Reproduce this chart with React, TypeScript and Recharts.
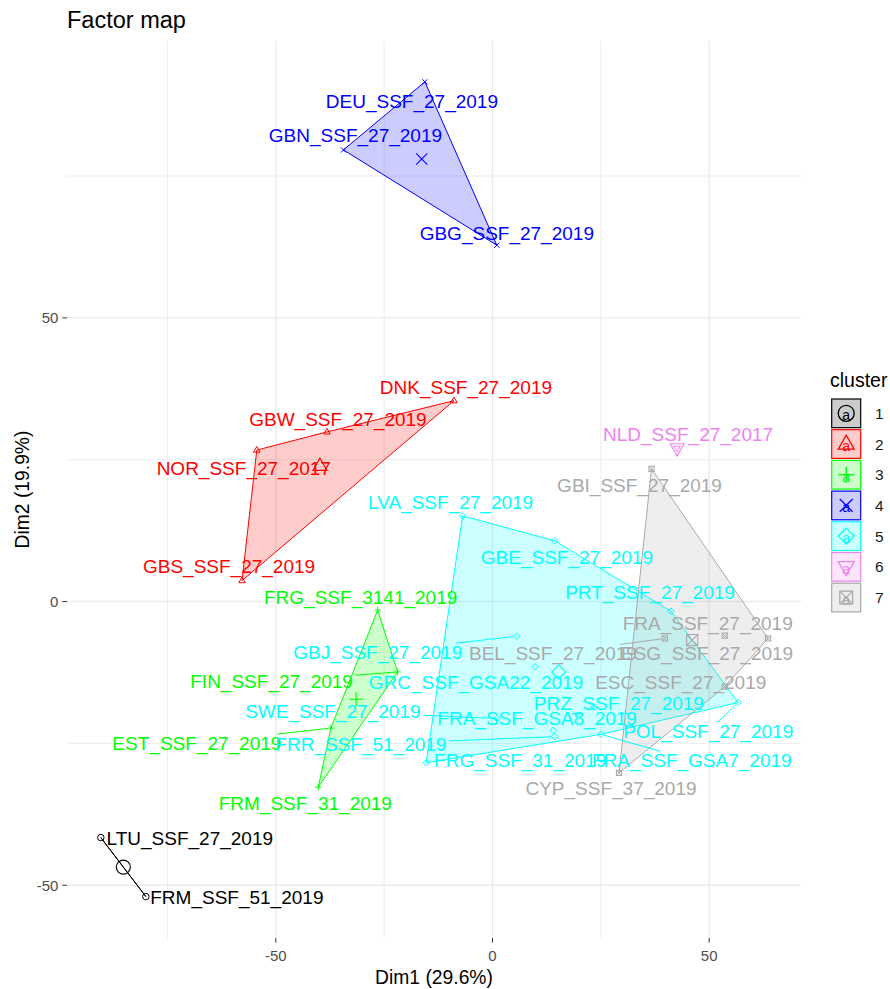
import React from 'react';
import { ScatterChart, Scatter, XAxis, YAxis, CartesianGrid } from 'recharts';

// individuals on the first factorial plane
const sampleNames = [
  'LTU_SSF_27_2019', 'FRM_SSF_51_2019',
  'DNK_SSF_27_2019', 'GBW_SSF_27_2019', 'NOR_SSF_27_2017', 'GBS_SSF_27_2019',
  'FRG_SSF_3141_2019', 'FIN_SSF_27_2019', 'EST_SSF_27_2019', 'FRM_SSF_31_2019',
  'DEU_SSF_27_2019', 'GBN_SSF_27_2019', 'GBG_SSF_27_2019',
  'LVA_SSF_27_2019', 'GBE_SSF_27_2019', 'PRT_SSF_27_2019', 'GBJ_SSF_27_2019',
  'GRC_SSF_GSA22_2019', 'SWE_SSF_27_2019', 'FRA_SSF_GSA8_2019', 'FRR_SSF_51_2019',
  'FRA_SSF_GSA7_2019', 'POL_SSF_27_2019', 'FRG_SSF_31_2019', 'PRZ_SSF_27_2019',
  'NLD_SSF_27_2017',
  'GBI_SSF_27_2019', 'BEL_SSF_27_2019', 'FRA_SSF_27_2019', 'ESG_SSF_27_2019',
  'ESC_SSF_27_2019', 'CYP_SSF_37_2019',
];
const dim1 = [
  -90.4, -80.0,
  -8.9, -38.2, -54.4, -57.8,
  -26.5, -21.9, -37.3, -40.2,
  -15.6, -34.4, 1.0,
  -6.9, 14.4, 41.2, 5.6,
  9.8, 1.0, 14.0, 14.4,
  25.0, 56.7, -15.3, 23.4,
  42.6,
  36.7, 39.8, 53.6, 63.6,
  53.6, 29.2,
];
const dim2 = [
  -41.6, -52.0,
  35.4, 29.9, 26.7, 3.7,
  -1.5, -12.4, -22.3, -32.7,
  91.6, 79.6, 62.8,
  15.1, 10.7, -1.7, -6.1,
  -11.5, -20.6, -22.7, -23.8,
  -23.4, -17.8, -28.4, -18.6,
  27.0,
  23.4, -6.5, -6.0, -6.5,
  -15.0, -30.2,
];
const clusterOf = [
  1, 1,
  2, 2, 2, 2,
  3, 3, 3, 3,
  4, 4, 4,
  5, 5, 5, 5, 5, 5, 5, 5, 5, 5, 5, 5,
  6,
  7, 7, 7, 7, 7, 7,
];

const clusterIds = [1, 2, 3, 4, 5, 6, 7];
const clusterColors = ['#000000', '#FF0000', '#00FF00', '#0000FF', '#00FFFF', '#EE82EE', '#A9A9A9'];
const clusterShapes = ['circle', 'triangle', 'plus', 'cross', 'diamond', 'triangleDown', 'squareCross'];

const xTicks = [-50, 0, 50];
const yTicks = [-50, 0, 50];
const xMinor = [-75, -25, 25];
const yMinor = [-25, 25, 75];

// ggrepel-ish label placement, pixel offset of the label centre from its point
const labelNudge: Record<string, [number, number, boolean?]> = {
  LTU_SSF_27_2019: [89, 1],
  FRM_SSF_51_2019: [91, 1],
  DNK_SSF_27_2019: [12, -13],
  GBW_SSF_27_2019: [11, -12],
  NOR_SSF_27_2017: [-13, 18],
  GBS_SSF_27_2019: [-13, -14],
  FRG_SSF_3141_2019: [-17, -13],
  FIN_SSF_27_2019: [-126, 10, true],
  EST_SSF_27_2019: [-134, 15, true],
  FRM_SSF_31_2019: [-13, 16],
  DEU_SSF_27_2019: [-13, 20],
  GBN_SSF_27_2019: [12, -14],
  GBG_SSF_27_2019: [10, -12],
  LVA_SSF_27_2019: [-12, -13],
  GBE_SSF_27_2019: [12, 17],
  PRT_SSF_27_2019: [-21, -19],
  GBJ_SSF_27_2019: [-139, 16, true],
  GRC_SSF_GSA22_2019: [-59, 16],
  SWE_SSF_27_2019: [-164, -7, true],
  FRA_SSF_GSA8_2019: [-16, -12],
  FRR_SSF_51_2019: [-194, 8, true],
  FRA_SSF_GSA7_2019: [91, 26, true],
  POL_SSF_27_2019: [-30, 29, true],
  FRG_SSF_31_2019: [94, -2, true],
  PRZ_SSF_27_2019: [25, -4],
  NLD_SSF_27_2017: [11, -14],
  GBI_SSF_27_2019: [-12, 17],
  BEL_SSF_27_2019: [-112, 15, true],
  FRA_SSF_27_2019: [-17, -12],
  ESG_SSF_27_2019: [-61, 15],
  ESC_SSF_27_2019: [-44, -4],
  CYP_SSF_37_2019: [-8, 16],
};

const FONT = '"Liberation Sans", Arial, Helvetica, sans-serif';
const LABEL_SIZE = 19;

type Pt = { name: string; x: number; y: number; cluster: number };

const points: Pt[] = sampleNames.map((name, i) => ({
  name,
  x: dim1[i],
  y: dim2[i],
  cluster: clusterOf[i],
}));

const colorOf = (c: number) => clusterColors[clusterIds.indexOf(c)];
const shapeOf = (c: number) => clusterShapes[clusterIds.indexOf(c)];

// convex hull (monotone chain), returned as a closed ring
function hullRing(pts: Pt[]) {
  const s = [...pts].sort((a, b) => a.x - b.x || a.y - b.y);
  if (s.length < 2) return s;
  const cross = (o: Pt, a: Pt, b: Pt) => (a.x - o.x) * (b.y - o.y) - (a.y - o.y) * (b.x - o.x);
  const lower: Pt[] = [];
  for (const p of s) {
    while (lower.length >= 2 && cross(lower[lower.length - 2], lower[lower.length - 1], p) <= 0) lower.pop();
    lower.push(p);
  }
  const upper: Pt[] = [];
  for (let i = s.length - 1; i >= 0; i--) {
    const p = s[i];
    while (upper.length >= 2 && cross(upper[upper.length - 2], upper[upper.length - 1], p) <= 0) upper.pop();
    upper.push(p);
  }
  const h = lower.slice(0, -1).concat(upper.slice(0, -1));
  return [...h, h[0]];
}

const centers = clusterIds.map((c) => {
  const m = points.filter((p) => p.cluster === c);
  return {
    name: 'center' + c,
    cluster: c,
    x: m.reduce((a, p) => a + p.x, 0) / m.length,
    y: m.reduce((a, p) => a + p.y, 0) / m.length,
  };
});

const charW: Record<string, number> = {
  _: 0.556, I: 0.278, M: 0.833, W: 0.944, G: 0.778, O: 0.778, N: 0.722, U: 0.722,
  D: 0.722, R: 0.722, C: 0.722, H: 0.722, F: 0.611, T: 0.611, Z: 0.611, L: 0.556, J: 0.5,
};
const textWidth = (t: string, fs: number) =>
  [...t].reduce((w, ch) => w + (charW[ch] ?? (/[A-Z]/.test(ch) ? 0.667 : 0.556)), 0) * fs;

function Glyph({ shape, x, y, s, color, sw = 1 }: any) {
  const h = s / 2;
  switch (shape) {
    case 'circle':
      return <circle cx={x} cy={y} r={h} fill="none" stroke={color} strokeWidth={sw} />;
    case 'triangle':
      return (
        <polygon
          points={`${x},${y - h * 1.1} ${x - h},${y + h * 0.65} ${x + h},${y + h * 0.65}`}
          fill="none" stroke={color} strokeWidth={sw}
        />
      );
    case 'triangleDown':
      return (
        <polygon
          points={`${x},${y + h * 1.1} ${x - h},${y - h * 0.65} ${x + h},${y - h * 0.65}`}
          fill="none" stroke={color} strokeWidth={sw}
        />
      );
    case 'plus':
      return (
        <g stroke={color} strokeWidth={sw}>
          <line x1={x - h} y1={y} x2={x + h} y2={y} />
          <line x1={x} y1={y - h} x2={x} y2={y + h} />
        </g>
      );
    case 'cross': {
      const k = h * 0.8;
      return (
        <g stroke={color} strokeWidth={sw}>
          <line x1={x - k} y1={y - k} x2={x + k} y2={y + k} />
          <line x1={x - k} y1={y + k} x2={x + k} y2={y - k} />
        </g>
      );
    }
    case 'diamond':
      return (
        <polygon
          points={`${x},${y - h} ${x + h},${y} ${x},${y + h} ${x - h},${y}`}
          fill="none" stroke={color} strokeWidth={sw}
        />
      );
    default: {
      const k = h * 0.8;
      return (
        <g stroke={color} strokeWidth={sw} fill="none">
          <rect x={x - k} y={y - k} width={2 * k} height={2 * k} />
          <line x1={x - k} y1={y - k} x2={x + k} y2={y + k} />
          <line x1={x - k} y1={y + k} x2={x + k} y2={y - k} />
        </g>
      );
    }
  }
}

const noShape = () => <g />;

const pointShape = (props: any) => {
  const { cx, cy, payload } = props;
  return <Glyph shape={shapeOf(payload.cluster)} x={cx} y={cy} s={6.5} color={colorOf(payload.cluster)} />;
};

const centerShape = (props: any) => {
  const { cx, cy, payload } = props;
  return <Glyph shape={shapeOf(payload.cluster)} x={cx} y={cy} s={14} color={colorOf(payload.cluster)} sw={1.1} />;
};

const labelShape = (props: any) => {
  const { cx, cy, payload } = props;
  const [dx, dy, seg] = labelNudge[payload.name] || [0, -12];
  const color = colorOf(payload.cluster);
  const lx = cx + dx;
  const ly = cy + dy;
  let segment = null;
  if (seg) {
    const hw = textWidth(payload.name, LABEL_SIZE) / 2 + 3;
    const hh = 9;
    const t = Math.min(dx ? hw / Math.abs(dx) : Infinity, dy ? hh / Math.abs(dy) : Infinity);
    if (t < 0.9) {
      const len = Math.hypot(dx, dy);
      const e = 3 / len;
      segment = (
        <line
          x1={lx - t * dx} y1={ly - t * dy} x2={cx + e * dx} y2={cy + e * dy}
          stroke={color} strokeWidth={1}
        />
      );
    }
  }
  return (
    <g>
      {segment}
      <text
        x={lx} y={ly} textAnchor="middle" dominantBaseline="central"
        fontSize={LABEL_SIZE} fontFamily={FONT} fill={color}
      >
        {payload.name}
      </text>
    </g>
  );
};

const xTitle = (props: any) => {
  const { viewBox } = props;
  return (
    <text
      x={viewBox.x + viewBox.width / 2} y={viewBox.y + 39} textAnchor="middle" dominantBaseline="central"
      fontSize={19.3} fontFamily={FONT} fill="#000000"
    >
      Dim1 (29.6%)
    </text>
  );
};

const yTitle = (props: any) => {
  const { viewBox } = props;
  const cy = viewBox.y + viewBox.height / 2;
  return (
    <text
      x={22} y={cy} textAnchor="middle" dominantBaseline="central" transform={`rotate(-90, 22, ${cy})`}
      fontSize={19.3} fontFamily={FONT} fill="#000000"
    >
      Dim2 (19.9%)
    </text>
  );
};

function ClusterLegend() {
  return (
    <svg width={70} height={260} style={{ position: 'absolute', left: 820, top: 360 }}>
      <text x={10} y={26.7} fontSize={19.5} fontFamily={FONT} fill="#000000">cluster</text>
      {clusterIds.map((c, i) => {
        const color = colorOf(c);
        const top = 39 + i * 30.7;
        const mx = 11.7 + 14.5;
        const my = top + 14.3;
        return (
          <g key={c}>
            <rect x={11.7} y={top} width={29} height={28.7} fill={color} fillOpacity={0.2} stroke={color} strokeWidth={1.2} />
            <Glyph shape={shapeOf(c)} x={mx} y={my} s={16} color={color} sw={1.3} />
            <text x={mx} y={my + 2} textAnchor="middle" dominantBaseline="central" fontSize={14} fontFamily={FONT} fill={color}>a</text>
            <text x={55} y={my} dominantBaseline="central" fontSize={15.5} fontFamily={FONT} fill="#1A1A1A">{c}</text>
          </g>
        );
      })}
    </svg>
  );
}

export default function App() {
  const tick = { fill: '#4D4D4D', fontSize: 15, fontFamily: FONT };
  return (
    <div style={{ position: 'absolute', left: 0, top: 0, width: 890, height: 989, background: '#FFFFFF', fontFamily: FONT }}>
      <div style={{ position: 'absolute', left: 67, top: 8.5, fontSize: 23.5, lineHeight: 1, color: '#000000' }}>
        Factor map
      </div>
      <ScatterChart width={890} height={989} margin={{ top: 41, right: 89, bottom: 0, left: 0 }}>
        <CartesianGrid horizontalValues={yMinor} verticalValues={xMinor} stroke="#EBEBEB" strokeWidth={0.9} />
        <CartesianGrid horizontalValues={yTicks} verticalValues={xTicks} stroke="#EBEBEB" strokeWidth={1.4} />
        <XAxis
          type="number" dataKey="x" domain={[-98.2, 71.2]} allowDataOverflow ticks={xTicks}
          axisLine={false} tickLine={{ stroke: '#333333' }} tickSize={4.6} tickMargin={7.7}
          tick={tick} height={51} label={{ content: xTitle }}
        />
        <YAxis
          type="number" dataKey="y" domain={[-59.3, 98.8]} allowDataOverflow ticks={yTicks}
          axisLine={false} tickLine={{ stroke: '#333333' }} tickSize={4.6} tickMargin={4}
          tick={tick} width={67} label={{ content: yTitle }}
        />
        {clusterIds.map((c) => {
          const ring = hullRing(points.filter((p) => p.cluster === c));
          if (ring.length < 3) return null;
          const color = colorOf(c);
          return (
            <Scatter
              key={'hull' + c} data={ring} shape={noShape} lineJointType="linear"
              line={{ stroke: color, strokeWidth: 1, fill: color, fillOpacity: 0.2 }}
              isAnimationActive={false}
            />
          );
        })}
        {clusterIds.map((c) => (
          <Scatter
            key={'pts' + c} data={points.filter((p) => p.cluster === c)}
            shape={pointShape} isAnimationActive={false}
          />
        ))}
        <Scatter data={points} shape={labelShape} isAnimationActive={false} />
        <Scatter data={centers} shape={centerShape} isAnimationActive={false} />
      </ScatterChart>
      <ClusterLegend />
    </div>
  );
}
